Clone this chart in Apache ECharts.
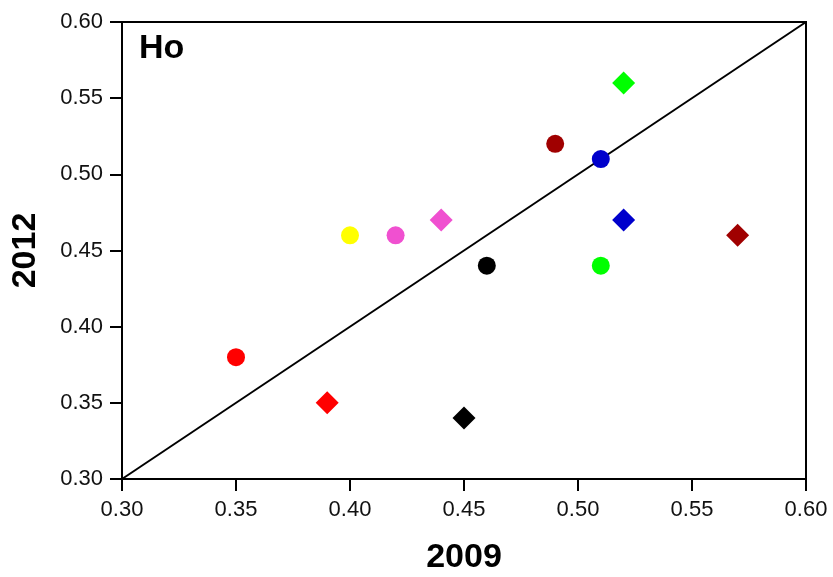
<!DOCTYPE html>
<html>
<head>
<meta charset="utf-8">
<script src="https://cdn.jsdelivr.net/npm/echarts@6/dist/echarts.min.js"></script>
<style>
  html, body { margin: 0; padding: 0; background: #fff; }
  #chart { width: 833px; height: 577px; }
</style>
</head>
<body>
<div id="chart"></div>
<script>
// values: [2009, 2012]
var groupColors = ['#ff0000', '#ffff00', '#f050d0', '#000000', '#a00000', '#0000cc', '#00ff00'];
var circlePoints = [
  [0.35, 0.38],  // red
  [0.40, 0.46],  // yellow
  [0.42, 0.46],  // pink
  [0.46, 0.44],  // black
  [0.49, 0.52],  // dark red
  [0.51, 0.51],  // blue
  [0.51, 0.44]   // green
];
var diamondPoints = [
  [0.39, 0.35],  // red
  null,          // yellow (none)
  [0.44, 0.47],  // pink
  [0.45, 0.34],  // black
  [0.57, 0.46],  // dark red
  [0.52, 0.47],  // blue
  [0.52, 0.56]   // green
];
var lineOfEquality = [[0.30, 0.30], [0.60, 0.60]];
var axisMin = 0.30, axisMax = 0.60, axisStep = 0.05;

var font = 'Liberation Sans, Arial, sans-serif';

function ptsData(list) {
  var out = [];
  for (var i = 0; i < list.length; i++) {
    if (!list[i]) continue;
    out.push({ value: list[i], itemStyle: { color: groupColors[i], opacity: 1 } });
  }
  return out;
}

function makeAxis(name, gap, margin) {
  return {
    type: 'value',
    min: axisMin,
    max: axisMax,
    interval: axisStep,
    splitLine: { show: false },
    axisLine: { show: true, lineStyle: { color: '#000', width: 2 } },
    axisTick: { show: true, inside: false, length: 12, lineStyle: { color: '#000', width: 2 } },
    axisLabel: {
      color: '#111', fontSize: 22, fontFamily: font, margin: margin,
      formatter: function (v) { return v.toFixed(2); }
    },
    name: name,
    nameGap: gap,
    nameLocation: 'middle',
    nameTextStyle: { color: '#000', fontSize: 34, fontWeight: 'bold', fontFamily: font }
  };
}

var options = {};
options.animation = false;
options.title = {
  text: 'Ho', left: 134, top: 27,
  textStyle: { fontSize: 34, fontWeight: 'bold', color: '#000', fontFamily: font }
};
options.grid = {
  left: 122, right: 27, top: 22, bottom: 98,
  outerBoundsMode: 'none',
  show: true, borderColor: '#000', borderWidth: 2
};
options.xAxis = makeAxis('2009', 62, 20);
options.yAxis = makeAxis('2012', 79, 19);
options.series = [
  {
    type: 'line', data: lineOfEquality, symbol: 'none', silent: true,
    lineStyle: { color: '#000', width: 2 }, z: 1
  },
  {
    type: 'scatter', symbol: 'circle', symbolSize: 18, data: ptsData(circlePoints), z: 2
  },
  {
    type: 'scatter', symbol: 'diamond', symbolSize: 23, data: ptsData(diamondPoints), z: 2
  }
];

var myChart = echarts.init(document.getElementById('chart'));
myChart.setOption(options);
</script>
</body>
</html>
